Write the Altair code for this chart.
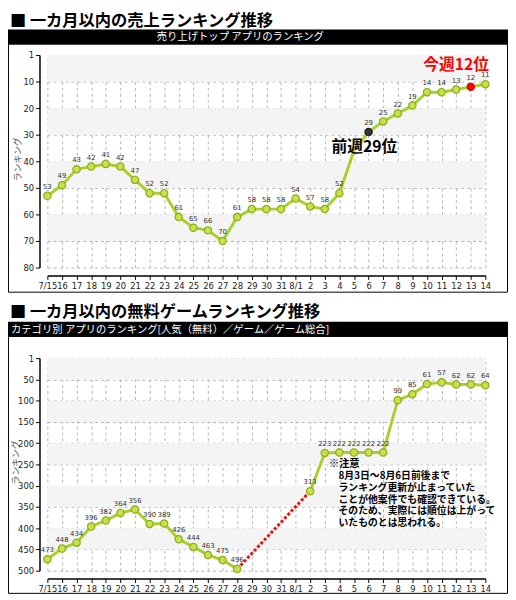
import altair as alt
import pandas as pd

# ---------------- data ----------------
dates = ["7/15", "16", "17", "18", "19", "20", "21", "22", "23", "24", "25", "26", "27",
         "28", "29", "30", "31", "8/1", "2", "3", "4", "5", "6", "7", "8", "9", "10",
         "11", "12", "13", "14"]

sales_rank = [53, 49, 43, 42, 41, 42, 47, 52, 52, 61, 65, 66, 70, 61, 58, 58, 58,
              54, 57, 58, 52, 36, 29, 25, 22, 19, 14, 14, 13, 12, 11]
# marker kind per day: n = normal, hidden = under annotation, prev = last week, now = this week
sales_kind = ["n"] * 21 + ["hidden", "prev"] + ["n"] * 6 + ["now", "n"]

game_rank = [473, 448, 434, 396, 382, 364, 356, 390, 389, 426, 444, 463, 475, 496,
             None, None, None, None,
             313, 223, 222, 222, 222, 222, 99, 85, 61, 57, 62, 62, 64]

top_title = "■ 一カ月以内の売上ランキング推移"
top_bar = "売り上げトップ アプリのランキング"
bot_title = "■ 一カ月以内の無料ゲームランキング推移"
bot_bar = "カテゴリ別 アプリのランキング[人気（無料）／ゲーム／ゲーム総合]"
y_title = "ランキング"

top_ticks = [0, 10, 20, 30, 40, 50, 60, 70, 80]
bot_ticks = [0, 50, 100, 150, 200, 250, 300, 350, 400, 450, 500]
top_bands = [0, 20, 40, 60]
bot_bands = [0, 100, 200, 300, 400]

ann_now = {"date": "12", "rank": 3.8, "text": "今週12位"}
ann_prev = {"date": "5", "rank": 34.5, "text": "前週29位"}
note_head = "※注意"
note_body = ["8月3日～8月6日前後まで", "ランキング更新が止まっていた",
             "ことが他案件でも確認できている。", "そのため、実際には順位は上がって",
             "いたものとは思われる。"]
note_anchor = {"date": "3", "rank": 238}

# ---------------- style ----------------
FJP = "Noto Sans CJK JP"
FNUM = "DejaVu Sans"
W, H = 445, 216
LINE_C = "#a8d02c"
PT_FILL = "#c8e04a"
PT_STROKE = "#8aad1a"
GRID_C = "#b4b4b4"


def x_enc():
    return alt.X("date:O", sort=dates, scale=alt.Scale(domain=dates, padding=0),
                 axis=alt.Axis(title=None, labelAngle=0, offset=8, domainColor="#000",
                               domainWidth=1.5, tickColor="#000", tickSize=4,
                               labelFont=FNUM, labelFontSize=8.5, labelColor="#222",
                               labelPadding=2, labelOverlap=False, grid=True,
                               gridColor=GRID_C, gridDash=[3, 3], gridWidth=1))


def y_enc(field, dmax, ticks):
    return alt.Y(field, type="quantitative",
                 scale=alt.Scale(domain=[0, dmax], reverse=True, nice=False, zero=False),
                 axis=alt.Axis(title=None, values=ticks, offset=8,
                               labelExpr="datum.value == 0 ? '1' : datum.label",
                               domainColor="#000", domainWidth=1.5, tickColor="#000",
                               tickSize=4, labelFont=FNUM, labelFontSize=8.5,
                               labelColor="#222", labelPadding=2, grid=True,
                               gridColor=GRID_C, gridDash=[3, 3], gridWidth=1))


def decorations(title, bar, bar_align, bar_x, title_top, bar_top, box_bottom, ytitle_x):
    one = lambda t: alt.Chart(pd.DataFrame({"t": [t]}))
    bg = one("").mark_rect(fill="white").encode(
        x=alt.value(-40), x2=alt.value(468), y=alt.value(title_top), y2=alt.value(bar_top))
    ttl = one(title).mark_text(font=FJP, fontSize=16.5, fontWeight="bold", color="#000",
                               align="left", baseline="top").encode(
        x=alt.value(-38), y=alt.value(title_top + 1), text="t:N")
    barr = one("").mark_rect(fill="#000").encode(
        x=alt.value(-40), x2=alt.value(468), y=alt.value(bar_top), y2=alt.value(bar_top + 15))
    bart = one(bar).mark_text(font=FJP, fontSize=10.5, color="#fff", align=bar_align,
                              baseline="middle").encode(
        x=alt.value(bar_x), y=alt.value(bar_top + 8), text="t:N")
    box = one("").mark_rect(fillOpacity=0, stroke="#000", strokeWidth=1).encode(
        x=alt.value(-39.5), x2=alt.value(467.5), y=alt.value(bar_top + 15),
        y2=alt.value(box_bottom))
    yt = one(y_title).mark_text(font=FJP, fontSize=9, color="#555", angle=270,
                                align="center", baseline="middle").encode(
        x=alt.value(ytitle_x), y=alt.value(H / 2 - 2), text="t:N")
    return [bg, ttl, barr, bart, box, yt]


# ---------------- top panel ----------------
sdf = pd.DataFrame({"date": dates, "rank": sales_rank, "kind": sales_kind})
sdf["label"] = sdf["rank"].astype(str)

bands_t = pd.DataFrame({"b0": top_bands, "b1": [b + 10 for b in top_bands]})
band_t = alt.Chart(bands_t).mark_rect(fill="#f4f4f4").encode(
    x=alt.value(0), x2=alt.value(W), y=y_enc("b0", 80, top_ticks), y2="b1")

line_t = alt.Chart(sdf).mark_line(color=LINE_C, strokeWidth=3).encode(
    x=x_enc(), y=y_enc("rank", 80, top_ticks))
pts_t = alt.Chart(sdf).transform_filter("datum.kind != 'hidden'").mark_circle(
    size=55, opacity=1, strokeWidth=1.2).encode(
    x=x_enc(), y=y_enc("rank", 80, top_ticks),
    fill=alt.Fill("kind:N", scale=alt.Scale(domain=["n", "prev", "now"],
                                            range=[PT_FILL, "#333333", "#ff0000"]), legend=None),
    stroke=alt.Stroke("kind:N", scale=alt.Scale(domain=["n", "prev", "now"],
                                                range=[PT_STROKE, "#222222", "#e00000"]), legend=None))
lab_t = alt.Chart(sdf).transform_filter("datum.kind != 'hidden'").mark_text(
    font=FNUM, fontSize=7, color="#333", dy=-9).encode(
    x=x_enc(), y=y_enc("rank", 80, top_ticks), text="label:N")
ann1 = alt.Chart(pd.DataFrame([ann_now])).mark_text(
    font=FJP, fontSize=16, fontWeight="bold", color="#ff0000",
    align="center", baseline="middle").encode(
    x=x_enc(), y=y_enc("rank", 80, top_ticks), text="text:N")
ann2 = alt.Chart(pd.DataFrame([ann_prev])).mark_text(
    font=FJP, fontSize=16, fontWeight="bold", color="#000", align="center",
    baseline="middle", dx=10.5).encode(
    x=x_enc(), y=y_enc("rank", 80, top_ticks), text="text:N")

top = alt.layer(*decorations(top_title, top_bar, "center", 196, -43, -26, 241, -30),
                band_t, line_t, pts_t, lab_t, ann1, ann2).properties(width=W, height=H)

# ---------------- bottom panel ----------------
gdf = pd.DataFrame({"date": dates, "rank": game_rank})
gdf["seg"] = [1 if i < 14 else 2 for i in range(len(dates))]
gdf = gdf.dropna().reset_index(drop=True)
gdf["label"] = gdf["rank"].astype(int).astype(str)

gap_df = pd.DataFrame({"date": ["28", "2"],
                       "rank": [game_rank[dates.index("28")], game_rank[dates.index("2")]]})

bands_b = pd.DataFrame({"b0": bot_bands, "b1": [b + 50 for b in bot_bands]})
band_b = alt.Chart(bands_b).mark_rect(fill="#f4f4f4").encode(
    x=alt.value(0), x2=alt.value(W), y=y_enc("b0", 500, bot_ticks), y2="b1")

gap_l = alt.Chart(gap_df).mark_line(color="#ee1111", strokeWidth=3, strokeDash=[3, 2]).encode(
    x=x_enc(), y=y_enc("rank", 500, bot_ticks))
line_b = alt.Chart(gdf).mark_line(color=LINE_C, strokeWidth=3).encode(
    x=x_enc(), y=y_enc("rank", 500, bot_ticks), detail="seg:N")
pts_b = alt.Chart(gdf).mark_circle(size=55, opacity=1, fill=PT_FILL, stroke=PT_STROKE,
                                   strokeWidth=1.2).encode(
    x=x_enc(), y=y_enc("rank", 500, bot_ticks))
lab_b = alt.Chart(gdf).mark_text(font=FNUM, fontSize=7, color="#333", dy=-9).encode(
    x=x_enc(), y=y_enc("rank", 500, bot_ticks), text="label:N")

note_df = pd.DataFrame([{"date": note_anchor["date"], "rank": note_anchor["rank"],
                         "head": note_head, "body": "\n".join(note_body)}])
note1 = alt.Chart(note_df).mark_text(font=FJP, fontSize=10.5, fontWeight="bold", color="#000",
                                     align="left", baseline="top", dx=4).encode(
    x=x_enc(), y=y_enc("rank", 500, bot_ticks), text="head:N")
note2 = alt.Chart(note_df).mark_text(font=FJP, fontSize=10, fontWeight="bold", color="#000",
                                     align="left", baseline="top", dx=14, dy=12,
                                     lineBreak="\n", lineHeight=12).encode(
    x=x_enc(), y=y_enc("rank", 500, bot_ticks), text="body:N")

bottom = alt.layer(*decorations(bot_title, bot_bar, "left", -37, -56, -37, 239, -32),
                   band_b, gap_l, line_b, pts_b, lab_b, note1, note2).properties(width=W, height=H)

chart = alt.vconcat(top, bottom, spacing=10).properties(
    padding=0, background="white").configure_view(strokeWidth=0)

chart.save("out.html", embed_options={"renderer": "svg", "actions": False})
